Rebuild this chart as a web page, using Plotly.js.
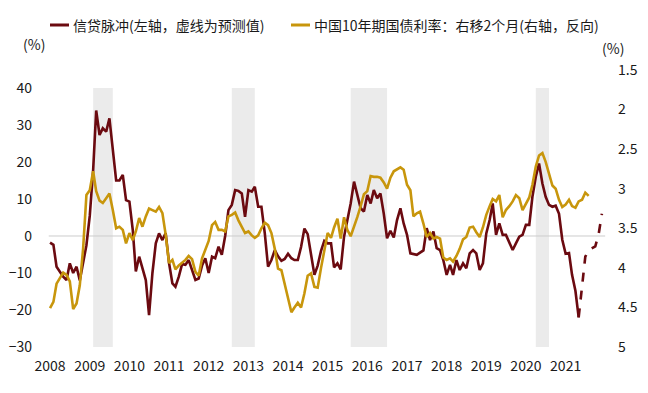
<!DOCTYPE html>
<html>
<head>
<meta charset="utf-8">
<script src="https://cdn.plot.ly/plotly-3.0.1.min.js"></script>
<style>
  html, body { margin: 0; padding: 0; background: #fff; }
  #chart { width: 648px; height: 393px; }
</style>
</head>
<body>
<div id="chart"></div>
<script>
// ---------------- DATA ----------------
const startYear = 2008;           // monthly series start: 2008-01
const yearTicks = ['2008','2009','2010','2011','2012','2013','2014','2015','2016','2017','2018','2019','2020','2021'];

// 信贷脉冲 (%) monthly from 2008-01 to 2021-05 (actual)
const creditImpulse = [
  -1.8, -2.4, -8.3, -9.8, -11, -11.9, -7.4, -10, -8.3, -12, -7.5, -2.5,
  5.5, 17.8, 33.9, 27.3, 29.1, 28.2, 31.8, 24.1, 15, 15, 16.5, 9.7,
  9.3, 1.6, -9.6, -5.6, -8.5, -11.9, -21.4, -10, -2, 0.7, -1.1, 0.8,
  -7.3, -12.8, -13.7, -11, -7.6, -7.8, -6.5, -9, -11.9, -11.5, -8, -6,
  -10, -5.6, -6, -2.9, -5.1, 0, 7, 8.4, 12.4, 12.2, 11.5, 5.2,
  12.4, 12, 13.3, 7.9, 7.9, 0.7, -8.3, -6.5, -3.8, -5.5, -6.7, -6.2,
  -4.8, -6, -6.5, -6.5, -3, 2, 0.5, -5, -10.5, -8, -4, -1.3,
  -2, -2, -8.5, -7.4, -9, -0.2, 4.3, 8.8, 14.7, 11, 7.5, 6.6,
  11.1, 8.8, 12.4, 10.2, 11.5, 6, -0.6, 1.4, -0.4, 4.3, 7.5, 3.4,
  0.3, -4.7, -4.9, -5.1, -4.5, -3.9, 2.1, -1.1, 1.2, -3.3, -3.8, -6.5,
  -10.5, -7.8, -10.5, -6.5, -9.2, -7.4, -8.7, -4.7, -3.8, -4.7, -9.2, -7.4,
  0.7, 4.3, 8.8, 0.3, 3.4, 0.3, 0.3, -2, -3.8, -2, -0.2, 0.3,
  3, 3, 10.6, 16, 19.6, 14.2, 10.6, 8.4, 7.9, 8.2, 6, -1,
  -4.8, -4.6, -10.5, -14.8, -22
];
// 信贷脉冲预测值 (dashed) from 2021-05 to 2021-12
const forecastStartIndex = 160;
const creditForecast = [-22, -13, -5.6, -3.8, -3.4, -2.8, 0.5, 6];

// 中国10年期国债利率 (%), shifted right 2 months, monthly from 2008-01
const bondYield = [
  4.51, 4.43, 4.20, 4.12, 4.06, 4.09, 4.17, 4.52, 4.45, 4.22, 3.75, 3.08,
  3.02, 2.78, 3.03, 3.15, 3.18, 3.12, 3.06, 3.27, 3.50, 3.48, 3.52, 3.69,
  3.56, 3.65, 3.54, 3.37, 3.48, 3.35, 3.25, 3.27, 3.29, 3.23, 3.31, 3.58,
  3.94, 3.90, 4.02, 3.97, 3.94, 3.90, 3.85, 3.89, 4.05, 4.10, 3.88, 3.76,
  3.66, 3.46, 3.42, 3.52, 3.52, 3.54, 3.35, 3.33, 3.30, 3.40, 3.48, 3.56,
  3.54, 3.59, 3.62, 3.59, 3.50, 3.43, 3.46, 3.56, 3.76, 4.01, 4.03, 4.20,
  4.37, 4.56, 4.50, 4.44, 4.50, 4.32, 4.10, 4.07, 4.24, 4.25, 4.00, 3.78,
  3.56, 3.62, 3.49, 3.38, 3.63, 3.36, 3.52, 3.60, 3.49, 3.36, 3.22, 3.07,
  3.03, 2.84, 2.85, 2.85, 2.86, 2.92, 3.00, 2.86, 2.78, 2.75, 2.73, 2.76,
  2.95, 3.02, 3.35, 3.31, 3.29, 3.44, 3.61, 3.56, 3.63, 3.61, 3.63, 3.87,
  3.90, 3.88, 3.92, 3.85, 3.76, 3.64, 3.61, 3.49, 3.48, 3.55, 3.61, 3.49,
  3.33, 3.22, 3.13, 3.16, 3.08, 3.36, 3.27, 3.22, 3.16, 3.08, 3.12, 3.27,
  3.18, 3.11, 2.95, 2.72, 2.58, 2.55, 2.66, 2.80, 2.96, 3.00, 3.14, 3.23,
  3.20, 3.14, 3.22, 3.24, 3.16, 3.14, 3.05, 3.09
];

// 阴影区间 (shaded periods)
const shadeStart = ['2009-02-01', '2012-08-01', '2015-08-01', '2020-04-01'];
const shadeEnd   = ['2009-08-01', '2013-03-01', '2016-07-01', '2020-08-01'];

const leftTicks  = [-30, -20, -10, 0, 10, 20, 30, 40];
const rightTicks = [1.5, 2, 2.5, 3, 3.5, 4, 4.5, 5];
const rightTickText = ['1.5', '2', '2.5', '3', '3.5', '4', '4.5', '5'];

const nameCredit = '信贷脉冲(左轴，虚线为预测值)';
const nameYield  = '中国10年期国债利率：右移2个月(右轴，反向)';

// ---------------- HELPERS ----------------
function monthDate(i) {
  const y = startYear + Math.floor(i / 12);
  const m = (i % 12) + 1;
  return y + '-' + (m < 10 ? '0' + m : m) + '-01';
}
const creditDates   = creditImpulse.map((_, i) => monthDate(i));
const forecastDates = creditForecast.map((_, i) => monthDate(forecastStartIndex + i));
const yieldDates    = bondYield.map((_, i) => monthDate(i));
const tickDates     = yearTicks.map(y => y + '-01-01');

// ---------------- LAYOUT GEOMETRY ----------------
const W = 648, H = 393;
const M = { l: 33, r: 31, t: 70, b: 46 };
const PW = W - M.l - M.r, PH = H - M.t - M.b;
const px = x => (x - M.l) / PW;
const py = y => (H - M.b - y) / PH;

const RED = '#6B0A10';
const GOLD = '#C8960C';
const FONT = '"Noto Sans CJK SC", "Noto Sans", sans-serif';
const TXT = '#1a1a1a';

const traces = [
  {
    x: creditDates, y: creditImpulse, type: 'scatter', mode: 'lines',
    name: nameCredit, line: { color: RED, width: 2.6 }, yaxis: 'y', showlegend: false
  },
  {
    x: forecastDates, y: creditForecast, type: 'scatter', mode: 'lines',
    name: '预测值', line: { color: RED, width: 2.6, dash: 'dash' }, yaxis: 'y', showlegend: false
  },
  {
    x: yieldDates, y: bondYield, type: 'scatter', mode: 'lines',
    name: nameYield, line: { color: GOLD, width: 2.6 }, yaxis: 'y2', showlegend: false
  }
];

const shapes = [];
for (let i = 0; i < shadeStart.length; i++) {
  shapes.push({
    type: 'rect', xref: 'x', yref: 'y', x0: shadeStart[i], x1: shadeEnd[i],
    y0: leftTicks[0], y1: leftTicks[leftTicks.length - 1],
    fillcolor: '#EBEBEB', line: { width: 0 }, layer: 'below'
  });
}
// zero line
shapes.push({
  type: 'line', xref: 'x', yref: 'y', x0: '2007-12-20', x1: '2021-12-31', y0: 0, y1: 0,
  line: { color: '#CCCCCC', width: 1 }, layer: 'below'
});
// legend samples
shapes.push({ type: 'line', xref: 'paper', yref: 'paper', x0: px(50), x1: px(69), y0: py(25), y1: py(25), line: { color: RED, width: 3 } });
shapes.push({ type: 'line', xref: 'paper', yref: 'paper', x0: px(291), x1: px(310), y0: py(25), y1: py(25), line: { color: GOLD, width: 3 } });

const annotations = [
  { xref: 'paper', yref: 'paper', x: px(71), y: py(25), xanchor: 'left', yanchor: 'middle', showarrow: false,
    text: nameCredit, font: { family: FONT, size: 14, color: TXT } },
  { xref: 'paper', yref: 'paper', x: px(312), y: py(25), xanchor: 'left', yanchor: 'middle', showarrow: false,
    text: nameYield, font: { family: FONT, size: 14, color: TXT } },
  { xref: 'paper', yref: 'paper', x: px(34), y: py(44), xanchor: 'center', yanchor: 'middle', showarrow: false,
    text: '(%)', font: { family: FONT, size: 14, color: TXT } },
  { xref: 'paper', yref: 'paper', x: px(613), y: py(48), xanchor: 'center', yanchor: 'middle', showarrow: false,
    text: '(%)', font: { family: FONT, size: 14, color: TXT } }
];

const layout = {
  width: W, height: H,
  margin: M,
  paper_bgcolor: '#fff', plot_bgcolor: '#fff',
  font: { family: FONT, size: 14, color: TXT },
  showlegend: false,
  xaxis: {
    type: 'date', range: ['2007-07-28', '2022-04-19'],
    tickvals: tickDates, ticktext: yearTicks,
    showgrid: false, zeroline: false, showline: false, ticks: '',
    ticklabelstandoff: 9,
    tickfont: { family: FONT, size: 14, color: TXT }
  },
  yaxis: {
    range: [-30, 44.86], tickvals: leftTicks,
    showgrid: false, zeroline: false, showline: false, ticks: '',
    tickfont: { family: FONT, size: 14, color: TXT }
  },
  yaxis2: {
    overlaying: 'y', side: 'right',
    range: [5, 1.5], tickvals: rightTicks, ticktext: rightTickText,
    showgrid: false, zeroline: false, showline: false, ticks: '',
    tickfont: { family: FONT, size: 14, color: TXT }
  },
  shapes: shapes,
  annotations: annotations
};

Plotly.newPlot('chart', traces, layout, { displayModeBar: false, staticPlot: true });
</script>
</body>
</html>
